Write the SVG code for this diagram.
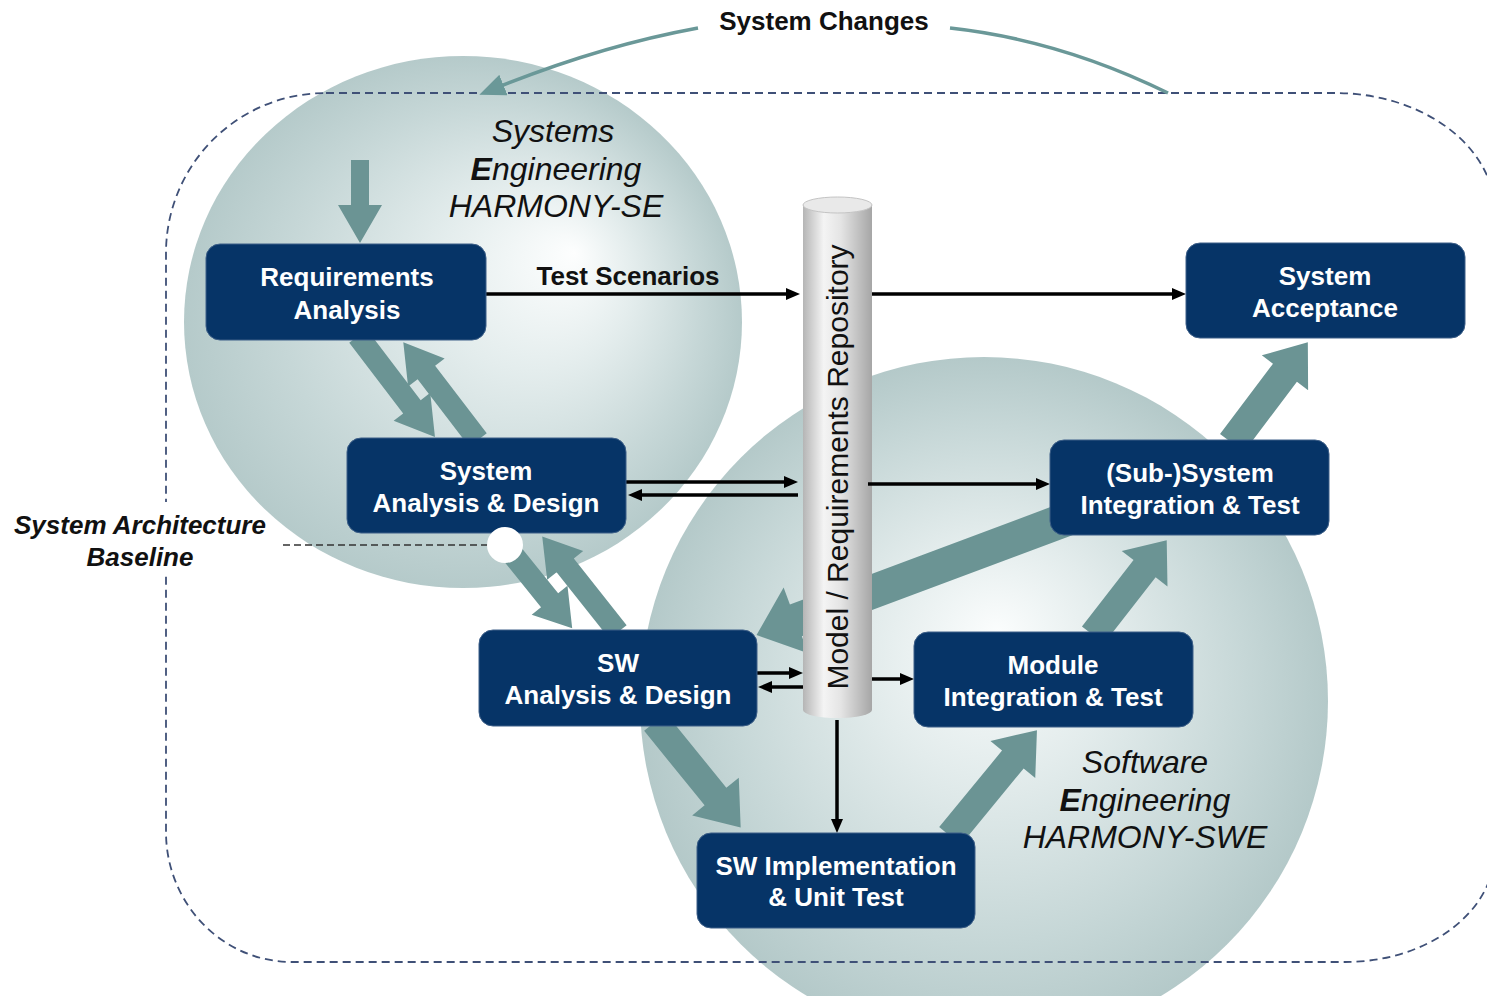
<svg xmlns="http://www.w3.org/2000/svg" width="1487" height="996" viewBox="0 0 1487 996">
<defs>
<radialGradient id="gSE" cx="0.5" cy="0.5" r="0.5" fx="0.7" fy="0.37">
<stop offset="0" stop-color="#fdfefe"/>
<stop offset="0.35" stop-color="#e4eded"/>
<stop offset="0.75" stop-color="#c6d7d7"/>
<stop offset="1" stop-color="#b5caca"/>
</radialGradient>
<radialGradient id="gSWE" cx="0.5" cy="0.5" r="0.5" fx="0.52" fy="0.4">
<stop offset="0" stop-color="#fbfdfd"/>
<stop offset="0.35" stop-color="#e3ecec"/>
<stop offset="0.75" stop-color="#c6d7d7"/>
<stop offset="1" stop-color="#b4c9c9"/>
</radialGradient>
<linearGradient id="gCyl" x1="0" y1="0" x2="1" y2="0">
<stop offset="0" stop-color="#b5b5b5"/>
<stop offset="0.3" stop-color="#f4f4f4"/>
<stop offset="0.55" stop-color="#e4e4e4"/>
<stop offset="1" stop-color="#a6a6a6"/>
</linearGradient>
<marker id="ah" viewBox="0 0 14 12" refX="4" refY="6" markerWidth="14" markerHeight="12" markerUnits="userSpaceOnUse" orient="auto">
<path d="M0,0 L14,6 L0,12 z" fill="#000"/>
</marker>
<marker id="ahT" viewBox="0 0 26 22" refX="8" refY="11" markerWidth="26" markerHeight="22" markerUnits="userSpaceOnUse" orient="auto">
<path d="M0,0 L26,11 L0,22 z" fill="#6a9898"/>
</marker>
<style>
.box{fill:#063467;stroke:#3d5f88;stroke-width:1}
.bt{font-family:"Liberation Sans",Arial,sans-serif;font-weight:bold;font-size:26px;fill:#fff;text-anchor:middle}
.title{font-family:"Liberation Sans",Arial,sans-serif;font-style:italic;font-size:32px;fill:#111;text-anchor:middle}
.base{font-family:"Liberation Sans",Arial,sans-serif;font-style:italic;font-weight:bold;font-size:26px;fill:#111;text-anchor:middle}
.lbl{font-family:"Liberation Sans",Arial,sans-serif;font-weight:bold;font-size:26px;fill:#111;text-anchor:middle}
.teal{fill:#6b9494}
.blk{fill:none;stroke:#000;stroke-width:3.5;marker-end:url(#ah)}
</style>
</defs>
<rect width="1487" height="996" fill="#fff"/>
<g id="domains">
<ellipse cx="463" cy="322" rx="279" ry="266" fill="url(#gSE)"/>
<circle cx="984" cy="701" r="344" fill="url(#gSWE)"/>
</g>
<path id="boundary" d="M326,93 H1335 A160 120 0 0 1 1495 213 V850 A150 112 0 0 1 1345 962 H292 A126 130 0 0 1 166 832 V253 A160 160 0 0 1 326 93 Z" fill="none" stroke="#3f5077" stroke-width="1.8" stroke-dasharray="8 5"/>
<g id="system-changes">
<text class="lbl" x="824" y="30">System Changes</text>
<path d="M698,28 Q600,46 496,88" fill="none" stroke="#6a9898" stroke-width="3.5" marker-end="url(#ahT)"/>
<path d="M950,28 Q1060,40 1168,93" fill="none" stroke="#6a9898" stroke-width="3.5"/>
</g>
<g id="flow-arrows">
<polygon class="teal" transform="translate(360,160) rotate(90)" points="0,-9 45,-9 45,-22 83,0 45,22 45,9 0,9"/>
<polygon class="teal" transform="translate(358,336) rotate(52.7)" points="0,-11 89,-11 89,-23 127,0 89,23 89,11 0,11"/>
<polygon class="teal" transform="translate(478,440) rotate(-127.4)" points="0,-11 85,-11 85,-23 123,0 85,23 85,11 0,11"/>
<polygon class="teal" transform="translate(505,545) rotate(51.1)" points="0,-11 71,-11 71,-23 107,0 71,23 71,11 0,11"/>
<polygon class="teal" transform="translate(618,632) rotate(-128.4)" points="0,-11 85,-11 85,-23 122,0 85,23 85,11 0,11"/>
<polygon class="teal" transform="translate(655,722) rotate(50.95)" points="0,-14 96,-14 96,-30 136,0 96,30 96,14 0,14"/>
<polygon class="teal" transform="translate(950,836) rotate(-50.6)" points="0,-14 99,-14 99,-29 137,0 99,29 99,14 0,14"/>
<polygon class="teal" transform="translate(1093,635) rotate(-52.1)" points="0,-14 84,-14 84,-29 120,0 84,29 84,14 0,14"/>
<polygon class="teal" transform="translate(1232,443) rotate(-53)" points="0,-15 88,-15 88,-29 126,0 88,29 88,15 0,15"/>
<polygon class="teal" transform="translate(1075,516) rotate(159.5)" points="0,-17 298,-17 298,-35 340,0 298,35 298,17 0,17"/>
</g>
<g id="repository">
<rect x="803" y="205" width="69" height="505" fill="url(#gCyl)"/>
<ellipse cx="837.5" cy="710" rx="34.5" ry="8" fill="url(#gCyl)"/>
<ellipse cx="837.5" cy="205" rx="34.5" ry="8" fill="#e9e9e9" stroke="#c4c4c4" stroke-width="1"/>
<text x="848" y="467" transform="rotate(-90 848 467)" font-family="'Liberation Sans',Arial,sans-serif" font-size="30" fill="#111" text-anchor="middle">Model / Requirements Repository</text>
</g>
<g id="connectors">
<path class="blk" d="M486,294 H790"/>
<path class="blk" d="M872,294 H1176"/>
<path class="blk" d="M626,482 H788"/>
<path class="blk" d="M798,495 H638"/>
<path class="blk" d="M868,484 H1040"/>
<path class="blk" d="M757,673 H793"/>
<path class="blk" d="M803,687 H768"/>
<path class="blk" d="M872,679 H904"/>
<path class="blk" d="M837,720 V823"/>
</g>
<g id="requirements-analysis">
<rect class="box" x="206" y="244" width="280" height="96" rx="14"/>
<text class="bt" x="347" y="286">Requirements</text>
<text class="bt" x="347" y="319">Analysis</text>
</g>
<g id="system-acceptance">
<rect class="box" x="1186" y="243" width="279" height="95" rx="14"/>
<text class="bt" x="1325" y="285">System</text>
<text class="bt" x="1325" y="317">Acceptance</text>
</g>
<g id="system-analysis-design">
<rect class="box" x="347" y="438" width="279" height="95" rx="14"/>
<text class="bt" x="486" y="480">System</text>
<text class="bt" x="486" y="512">Analysis &amp; Design</text>
</g>
<g id="subsystem-integration-test">
<rect class="box" x="1050" y="440" width="279" height="95" rx="14"/>
<text class="bt" x="1190" y="482">(Sub-)System</text>
<text class="bt" x="1190" y="514">Integration &amp; Test</text>
</g>
<g id="sw-analysis-design">
<rect class="box" x="479" y="630" width="278" height="96" rx="14"/>
<text class="bt" x="618" y="672">SW</text>
<text class="bt" x="618" y="704">Analysis &amp; Design</text>
</g>
<g id="module-integration-test">
<rect class="box" x="914" y="632" width="279" height="95" rx="14"/>
<text class="bt" x="1053" y="674">Module</text>
<text class="bt" x="1053" y="706">Integration &amp; Test</text>
</g>
<g id="sw-implementation">
<rect class="box" x="697" y="833" width="278" height="95" rx="14"/>
<text class="bt" x="836" y="875">SW Implementation</text>
<text class="bt" x="836" y="906">&amp; Unit Test</text>
</g>
<g id="baseline">
<path d="M283,545 H488" fill="none" stroke="#333" stroke-width="1.5" stroke-dasharray="7 4"/>
<circle cx="505" cy="545" r="18" fill="#fff"/>
<rect x="152" y="502" width="28" height="72" fill="#fff"/>
<text class="base" x="140" y="534">System Architecture</text>
<text class="base" x="140" y="566">Baseline</text>
</g>
<g id="labels">
<text class="lbl" x="628" y="285">Test Scenarios</text>
<text class="title" x="553" y="142">Systems</text>
<text class="title" x="556" y="180"><tspan font-weight="bold">E</tspan>ngineering</text>
<text class="title" x="556" y="217">HARMONY-SE</text>
<text class="title" x="1145" y="773">Software</text>
<text class="title" x="1145" y="811"><tspan font-weight="bold">E</tspan>ngineering</text>
<text class="title" x="1145" y="848">HARMONY-SWE</text>
</g>
</svg>
